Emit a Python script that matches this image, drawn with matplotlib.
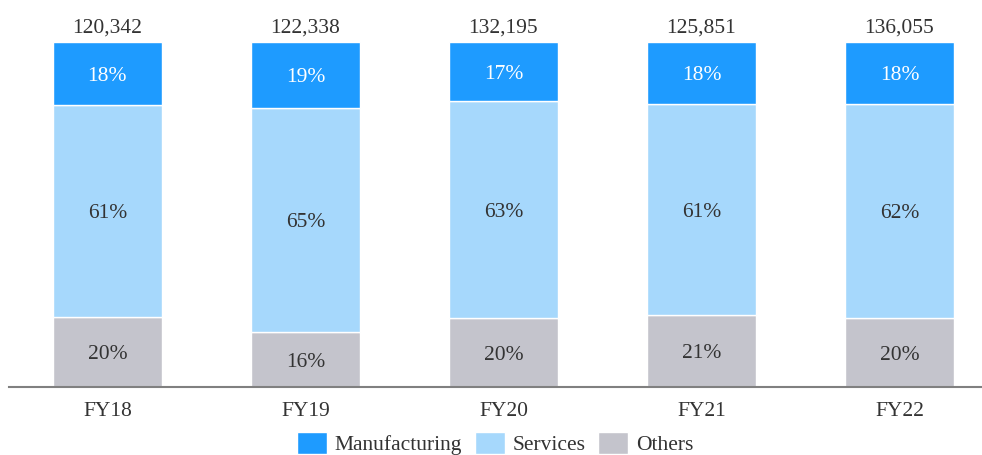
import matplotlib
matplotlib.use("Agg")
import matplotlib.pyplot as plt
import numpy as np

years = ["FY18", "FY19", "FY20", "FY21", "FY22"]
totals = [120342, 122338, 132195, 125851, 136055]
manufacturing = [18, 19, 17, 18, 18]
services = [61, 65, 63, 61, 62]
others = [20, 16, 20, 21, 20]

c_mfg = "#1E9BFF"
c_svc = "#A6D8FC"
c_oth = "#C4C4CC"
txt = "#333333"

plt.rcParams['font.family'] = ['Liberation Serif', 'DejaVu Serif']

fig = plt.figure(figsize=(9.82, 4.55), dpi=100)
ax = fig.add_axes([9/982, (455-387)/455, 1 - 9/982, (387-42)/455])

x = np.arange(len(years))
m = np.array(manufacturing, float)
s = np.array(services, float)
o = np.array(others, float)
tot = m + s + o
m_n, s_n, o_n = m/tot*100, s/tot*100, o/tot*100

w = 0.55
b1 = ax.bar(x, o_n, w, color=c_oth, edgecolor="white", linewidth=1, label="Others")
b2 = ax.bar(x, s_n, w, bottom=o_n, color=c_svc, edgecolor="white", linewidth=1, label="Services")
b3 = ax.bar(x, m_n, w, bottom=o_n+s_n, color=c_mfg, edgecolor="white", linewidth=1, label="Manufacturing")

fs = 15.5
dy = -0.8
for i in range(len(x)):
    ax.text(x[i], o_n[i]/2 + dy, f"{others[i]}%", ha="center", va="center", fontsize=fs, color=txt)
    ax.text(x[i], o_n[i] + s_n[i]/2 + dy, f"{services[i]}%", ha="center", va="center", fontsize=fs, color=txt)
    ax.text(x[i], o_n[i] + s_n[i] + m_n[i]/2 + dy, f"{manufacturing[i]}%", ha="center", va="center", fontsize=fs, color="white")
    ax.text(x[i], 101.3, f"{totals[i]:,}", ha="center", va="bottom", fontsize=fs, color=txt)

ax.set_xlim(-0.497, (982-107.5)/198)
ax.set_ylim(0, 100)
ax.set_xticks(x)
ax.set_xticklabels(years, fontsize=fs, color=txt)
ax.tick_params(axis="x", length=0, pad=11)
ax.set_yticks([])
for sp in ["top", "right", "left"]:
    ax.spines[sp].set_visible(False)
ax.spines["bottom"].set_color("#808080")
ax.spines["bottom"].set_linewidth(1.5)

handles = [b3, b2, b1]
leg = fig.legend(handles, ["Manufacturing", "Services", "Others"], loc="center",
                 bbox_to_anchor=(495/982, 1 - 443.5/455), ncol=3, frameon=False,
                 fontsize=fs, handlelength=1.4, handleheight=1.2, handletextpad=0.35,
                 columnspacing=0.6, labelcolor=txt, borderpad=0.1)

fig.savefig("out.png", dpi=100)
